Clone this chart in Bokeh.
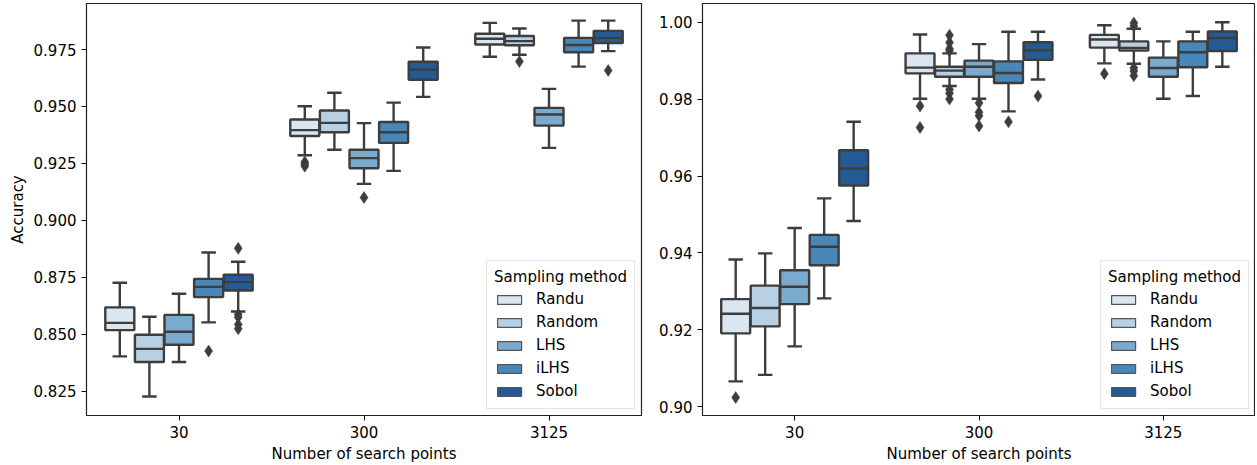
from bokeh.plotting import figure
from bokeh.layouts import row
from bokeh.models import Range1d, FixedTicker, PrintfTickFormatter, Legend, LegendItem
from bokeh.embed import file_html
from bokeh.resources import INLINE

groups = ["30", "300", "3125"]
methods = ["Randu", "Random", "LHS", "iLHS", "Sobol"]
colors = ["#dbe6f1", "#b7d0e4", "#7aaacd", "#4a87b9", "#245b94"]

# Left panel (group-major: 30, 300, 3125; each 5 methods)
L_lo = [0.8403, 0.8227, 0.8378, 0.8552, 0.8600,
        0.9286, 0.9310, 0.9160, 0.9217, 0.9542,
        0.9718, 0.9727, 0.9318, 0.9675, 0.9743]
L_q1 = [0.8518, 0.8378, 0.8454, 0.8663, 0.8692,
        0.9370, 0.9387, 0.9229, 0.9340, 0.9617,
        0.9772, 0.9769, 0.9416, 0.9738, 0.9778]
L_med = [0.8550, 0.8436, 0.8511, 0.8708, 0.8729,
         0.9396, 0.9428, 0.9273, 0.9387, 0.9661,
         0.9797, 0.9787, 0.9465, 0.9770, 0.9800]
L_q3 = [0.8618, 0.8498, 0.8585, 0.8743, 0.8761,
        0.9443, 0.9482, 0.9310, 0.9432, 0.9696,
        0.9819, 0.9809, 0.9494, 0.9801, 0.9832]
L_hi = [0.8726, 0.8577, 0.8678, 0.8859, 0.8818,
        0.9501, 0.9560, 0.9427, 0.9517, 0.9759,
        0.9867, 0.9842, 0.9577, 0.9877, 0.9877]
L_out_group = [0, 0, 0, 0, 0, 0, 1, 1, 1, 1, 2, 2]
L_out_method = [3, 4, 4, 4, 4, 4, 0, 0, 0, 2, 1, 4]
L_out_val = [0.8426, 0.8877, 0.8587, 0.8575, 0.8543, 0.8524,
             0.9256, 0.9247, 0.9238, 0.9100, 0.9697, 0.9658]

# Right panel
R_lo = [0.9066, 0.9083, 0.9157, 0.9282, 0.9483,
        0.9801, 0.9834, 0.9801, 0.9768, 0.9851,
        0.9893, 0.9892, 0.9801, 0.9808, 0.9884]
R_q1 = [0.9191, 0.9209, 0.9267, 0.9368, 0.9575,
        0.9867, 0.9858, 0.9858, 0.9842, 0.9902,
        0.9934, 0.9926, 0.9858, 0.9883, 0.9925]
R_med = [0.9242, 0.9257, 0.9312, 0.9416, 0.9620,
         0.9882, 0.9874, 0.9884, 0.9868, 0.9927,
         0.9955, 0.9933, 0.9881, 0.9922, 0.9959]
R_q3 = [0.9280, 0.9315, 0.9355, 0.9447, 0.9667,
        0.9919, 0.9884, 0.9900, 0.9898, 0.9948,
        0.9967, 0.9950, 0.9908, 0.9950, 0.9976]
R_hi = [0.9383, 0.9399, 0.9465, 0.9542, 0.9741,
        0.9968, 0.9919, 0.9943, 0.9975, 0.9975,
        0.9992, 0.9983, 0.9950, 0.9975, 1.0000]
R_out_group = [0, 1, 1, 1, 1, 1, 1, 1, 1, 1, 1, 1, 1, 1, 1, 1,
               2, 2, 2, 2, 2, 2]
R_out_method = [0, 0, 0, 1, 1, 1, 1, 1, 1, 1, 2, 2, 2, 2, 3, 4,
                0, 1, 1, 1, 1, 1]
R_out_val = [0.9024, 0.9782, 0.9726, 0.9966, 0.9947, 0.9931, 0.9926,
             0.9825, 0.9815, 0.9800, 0.9790, 0.9766, 0.9757, 0.9730,
             0.9741, 0.9808, 0.9866, 0.9998, 0.9990, 0.9881, 0.9873, 0.9861]

L_ticks = [0.825, 0.850, 0.875, 0.900, 0.925, 0.950, 0.975]
R_ticks = [0.90, 0.92, 0.94, 0.96, 0.98, 1.00]

FONT = "DejaVu Sans"
GRAY = "#3d3d3d"
HUE_W = 0.16
BOX_HALF = HUE_W * 0.98 / 2
CAP_HALF = BOX_HALF / 2
NAN = float("nan")


def make_panel(lo, q1, med, q3, hi, og, om, ov, yr, ticks, fmt, ylabel,
               min_left, min_right, fw):
    p = figure(frame_width=fw, frame_height=412,
               x_range=Range1d(-0.5, 2.5), y_range=Range1d(*yr),
               output_backend="svg", toolbar_location=None,
               min_border_left=min_left, min_border_right=min_right,
               min_border_top=3, min_border_bottom=46)
    p.xgrid.visible = False
    p.ygrid.visible = False
    p.outline_line_color = "#222222"
    p.outline_line_width = 1.2
    p.background_fill_color = "white"
    p.border_fill_color = "white"

    p.xaxis.ticker = FixedTicker(ticks=[0, 1, 2])
    p.xaxis.major_label_overrides = {i: g for i, g in enumerate(groups)}
    p.xaxis.axis_label = "Number of search points"
    p.yaxis.ticker = FixedTicker(ticks=ticks)
    p.yaxis.formatter = PrintfTickFormatter(format=fmt)
    if ylabel:
        p.yaxis.axis_label = ylabel
    for ax in (p.xaxis, p.yaxis):
        ax.axis_line_color = None
        ax.major_tick_line_color = "black"
        ax.major_tick_out = 5
        ax.major_tick_in = 0
        ax.minor_tick_line_color = None
        ax.major_label_text_font = FONT
        ax.major_label_text_font_size = "15px"
        ax.major_label_text_color = "black"
        ax.major_label_standoff = 5
        ax.axis_label_text_font = FONT
        ax.axis_label_text_font_size = "15px"
        ax.axis_label_text_font_style = "normal"
        ax.axis_label_text_color = "black"
        ax.axis_label_standoff = 4

    n = len(methods)
    for i, m in enumerate(methods):
        idx = [g * n + i for g in range(len(groups))]
        xs = [g + (i - (n - 1) / 2) * HUE_W for g in range(len(groups))]
        glo = [lo[k] for k in idx]
        gq1 = [q1[k] for k in idx]
        gmed = [med[k] for k in idx]
        gq3 = [q3[k] for k in idx]
        ghi = [hi[k] for k in idx]
        p.segment(x0=xs, y0=gq3, x1=xs, y1=ghi, line_color=GRAY, line_width=2.4)
        p.segment(x0=xs, y0=gq1, x1=xs, y1=glo, line_color=GRAY, line_width=2.4)
        p.segment(x0=[x - CAP_HALF for x in xs], y0=ghi,
                  x1=[x + CAP_HALF for x in xs], y1=ghi,
                  line_color=GRAY, line_width=2.4)
        p.segment(x0=[x - CAP_HALF for x in xs], y0=glo,
                  x1=[x + CAP_HALF for x in xs], y1=glo,
                  line_color=GRAY, line_width=2.4)
        p.quad(left=[x - BOX_HALF for x in xs], right=[x + BOX_HALF for x in xs],
               bottom=gq1, top=gq3, fill_color=colors[i],
               line_color=GRAY, line_width=2.4)
        p.segment(x0=[x - BOX_HALF for x in xs], y0=gmed,
                  x1=[x + BOX_HALF for x in xs], y1=gmed,
                  line_color=GRAY, line_width=2.4)

    ox = [g + (m - (n - 1) / 2) * HUE_W for g, m in zip(og, om)]
    p.scatter(x=ox, y=ov, marker="diamond", size=12,
              fill_color=GRAY, line_color=GRAY, line_width=0.5)

    items = []
    for i, m in enumerate(methods):
        r = p.quad(left=[NAN], right=[NAN], bottom=[NAN], top=[NAN],
                   fill_color=colors[i], line_color="#555555", line_width=1.2)
        items.append(LegendItem(label=m, renderers=[r]))
    legend = Legend(items=items, location="bottom_right", title="Sampling method")
    legend.title_text_font = FONT
    legend.title_text_font_size = "15px"
    legend.title_text_font_style = "normal"
    legend.title_text_color = "black"
    legend.title_standoff = 3
    legend.label_text_font = FONT
    legend.label_text_font_size = "15px"
    legend.label_text_color = "black"
    legend.glyph_width = 30
    legend.glyph_height = 11
    legend.label_height = 20
    legend.label_standoff = 12
    legend.spacing = 3
    legend.padding = 7
    legend.margin = 6
    legend.border_line_color = "#cccccc"
    legend.border_line_width = 1
    legend.background_fill_color = "white"
    legend.background_fill_alpha = 0.8
    p.add_layout(legend)
    return p


p1 = make_panel(L_lo, L_q1, L_med, L_q3, L_hi, L_out_group, L_out_method, L_out_val,
                (0.81433, 0.99520), L_ticks, "%.3f", "Accuracy", 86, 3, 555)
p2 = make_panel(R_lo, R_q1, R_med, R_q3, R_hi, R_out_group, R_out_method, R_out_val,
                (0.89774, 1.00486), R_ticks, "%.2f", None, 58, 0, 553)

layout = row(p1, p2)
open("out.html", "w").write(file_html(layout, INLINE))
